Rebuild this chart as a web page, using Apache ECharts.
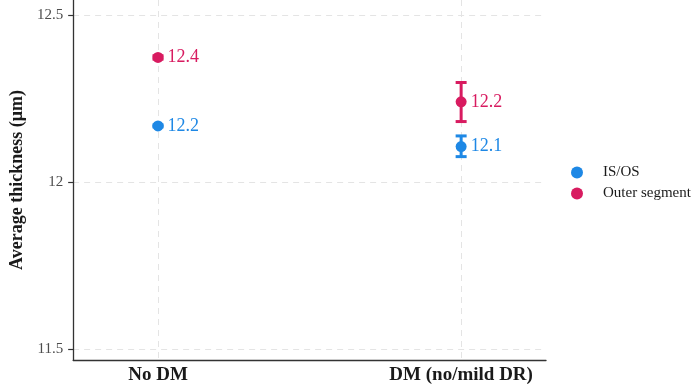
<!DOCTYPE html>
<html><head><meta charset="utf-8">
<script src="https://cdn.jsdelivr.net/npm/echarts@6/dist/echarts.min.js"></script>
<style>html,body{margin:0;padding:0;background:#fff}#c{width:700px;height:390px}</style>
</head><body><div id="c"></div>
<script>
const categories = ['No DM', 'DM (no/mild DR)'];
const seriesNames = ['IS/OS', 'Outer segment'];
const isosMean = [12.168, 12.106];
const isosLower = [12.165, 12.076];
const isosUpper = [12.171, 12.138];
const outerMean = [12.373, 12.240];
const outerLower = [12.368, 12.181];
const outerUpper = [12.378, 12.298];
const yTicks = [11.5, 12, 12.5];
const colors = ['#1E88E5', '#D81B60'];

const FONT = 'Liberation Serif';
const catPos = categories.map((c, i) => i + 1);

function pts(mean) { return mean.map((m, i) => [catPos[i], m]); }
function errs(lo, hi) { return lo.map((l, i) => [catPos[i], l, hi[i]]); }

function errRender(params, api) {
  const x = api.value(0), lo = api.value(1), hi = api.value(2);
  const pLo = api.coord([x, lo]), pHi = api.coord([x, hi]);
  const half = 5.5;
  const style = { stroke: api.visual('color'), lineWidth: 3 };
  return { type: 'group', children: [
    { type: 'line', shape: { x1: pHi[0], y1: pHi[1], x2: pLo[0], y2: pLo[1] }, style: style },
    { type: 'line', shape: { x1: pHi[0] - half, y1: pHi[1], x2: pHi[0] + half, y2: pHi[1] }, style: style },
    { type: 'line', shape: { x1: pLo[0] - half, y1: pLo[1], x2: pLo[0] + half, y2: pLo[1] }, style: style }
  ]};
}

const gridLine = { show: true, lineStyle: { color: '#e4e4e4', type: [6, 5], width: 1 } };

function scatter(name, mean, color) {
  return {
    name: name, type: 'scatter', data: pts(mean), symbol: 'circle', symbolSize: 11, z: 3,
    itemStyle: { color: color, opacity: 1 },
    label: { show: true, position: 'right', distance: 4, color: color, fontFamily: FONT, fontSize: 18,
      formatter: p => p.value[1].toFixed(1) }
  };
}
function errSeries(name, lo, hi, color) {
  return { name: name, type: 'custom', data: errs(lo, hi), renderItem: errRender, z: 2,
    itemStyle: { color: color }, encode: { x: 0, y: [1, 2] } };
}

const chart = echarts.init(document.getElementById('c'), null, { renderer: 'canvas' });
chart.setOption({
  animation: false,
  backgroundColor: '#fff',
  grid: { left: 72, right: 154, top: 0, bottom: 30, containLabel: false },
  legend: {
    orient: 'vertical', left: 566, top: 160, itemWidth: 12, itemHeight: 12, itemGap: 6,
    data: seriesNames.map(n => ({ name: n, icon: 'circle' })),
    textStyle: { fontFamily: FONT, fontSize: 15, color: '#1a1a1a', padding: [0, 0, 0, 15], lineHeight: 15 }
  },
  xAxis: {
    type: 'value', min: 0.72, max: 2.28,
    axisLine: { show: true, lineStyle: { color: '#333', width: 1.3 } },
    axisTick: { show: false, customValues: catPos },
    axisLabel: { customValues: catPos, margin: 6, fontFamily: FONT, fontSize: 19, fontWeight: 'bold', color: '#1a1a1a',
      formatter: v => categories[Math.round(v) - 1] || '' },
    splitLine: gridLine
  },
  yAxis: {
    type: 'value', min: 11.467, max: 12.545,
    name: 'Average thickness (μm)', nameLocation: 'middle', nameGap: 45,
    nameTextStyle: { fontFamily: FONT, fontSize: 18, fontWeight: 'bold', color: '#1a1a1a' },
    axisLine: { show: true, lineStyle: { color: '#333', width: 1.3 } },
    axisTick: { show: true, customValues: yTicks, length: 5, lineStyle: { color: '#333', width: 1.2 } },
    axisLabel: { customValues: yTicks, margin: 10, fontFamily: FONT, fontSize: 15, color: '#4d4d4d',
      formatter: v => String(v) },
    splitLine: gridLine
  },
  series: [
    scatter(seriesNames[0], isosMean, colors[0]),
    scatter(seriesNames[1], outerMean, colors[1]),
    errSeries(seriesNames[0], isosLower, isosUpper, colors[0]),
    errSeries(seriesNames[1], outerLower, outerUpper, colors[1])
  ]
});
</script>
</body></html>
